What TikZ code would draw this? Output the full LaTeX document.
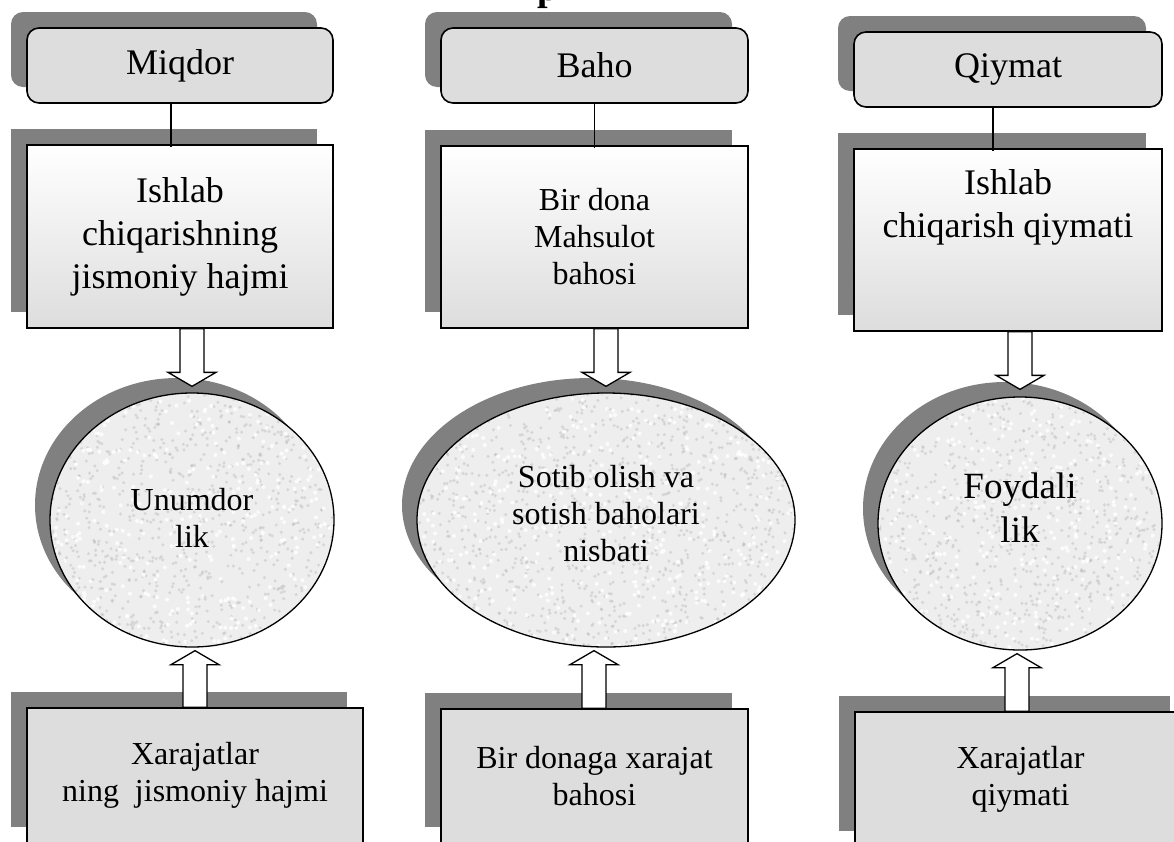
\documentclass[tikz,border=0pt]{standalone}
\usepackage{fontspec}
\setmainfont{Liberation Serif}
\usetikzlibrary{shapes.geometric,shadows,calc}
\definecolor{shadowgray}{HTML}{808080}
\definecolor{boxgray}{HTML}{DDDDDD}
\definecolor{ovalgray}{HTML}{EEEEEE}
\definecolor{speckgray}{HTML}{B4B4B4}

% mottled paper texture for the ovals
\newcommand\speckle{%
  \foreach \k in {1,...,1300}{\fill[speckgray,opacity=.4]
    ($(path picture bounding box.center)+(rand*195,rand*132)$) circle (1.7pt);}
  \foreach \k in {1,...,500}{\fill[white,opacity=.8]
    ($(path picture bounding box.center)+(rand*195,rand*132)$) circle (2pt);}}

% hollow block arrows: #1 = start, #2 = tip
\newcommand\blockdown[2]{\draw[blockarrow] let \p1=#1, \p2=#2 in
  (\x2-12pt,\y1) -- (\x2-12pt,\y2+14pt) -- (\x2-24pt,\y2+14pt) -- (\x2,\y2)
  -- (\x2+24pt,\y2+14pt) -- (\x2+12pt,\y2+14pt) -- (\x2+12pt,\y1) -- cycle;}
\newcommand\blockup[2]{\draw[blockarrow] let \p1=#1, \p2=#2 in
  (\x2-12pt,\y1) -- (\x2-12pt,\y2-14pt) -- (\x2-24pt,\y2-14pt) -- (\x2,\y2)
  -- (\x2+24pt,\y2-14pt) -- (\x2+12pt,\y2-14pt) -- (\x2+12pt,\y1) -- cycle;}

\begin{document}
\begin{tikzpicture}[x=1pt,y=-1pt,
  bigtext/.style={font=\fontsize{36}{43}\selectfont},
  smalltext/.style={font=\fontsize{32}{37}\selectfont},
  ovaltext/.style={font=\fontsize{37}{44}\selectfont},
  castshadow/.style={general shadow={fill=shadowgray, shadow xshift=-16pt, shadow yshift=16pt}},
  headbox/.style={draw, line width=1.6pt, rounded corners=12pt, fill=boxgray,
    castshadow, inner sep=0pt, minimum height=75pt, bigtext},
  panel/.style={draw, line width=1.6pt, top color=white, bottom color=boxgray,
    castshadow, inner sep=0pt, align=center},
  footbox/.style={draw, line width=1.6pt, fill=boxgray, castshadow,
    inner sep=0pt, align=center, smalltext},
  oval/.style={ellipse, draw, line width=1.3pt, fill=ovalgray, inner sep=0pt,
    general shadow={fill=shadowgray, shadow xshift=-15pt, shadow yshift=15pt},
    path picture={\speckle}},
  link/.style={line width=1.2pt},
  blockarrow/.style={draw, line width=1.3pt, fill=white, line join=miter}
]
\pgfmathsetseed{4213}
\useasboundingbox (0,0) rectangle (1174,841);
\clip (0,0) rectangle (1174,841);

% bottom of the heading line above the chart
\node[font=\bfseries\fontsize{38}{40}\selectfont, anchor=base, inner sep=0pt] (heading) at (548,0) {p};

% ---- column 1 ----
\node[headbox, minimum width=306pt] (t1) at (180,65.5) {Miqdor};
\node[panel, bigtext, minimum width=306pt, minimum height=183pt] (r1) at (180,236.5)
  {Ishlab\\chiqarishning\\jismoniy hajmi};
\node[oval, minimum width=284pt, minimum height=254pt] (c1) at (192,520) {};
\node[smalltext, align=center] (c1t) at ($(c1)+(0,-2.5)$) {Unumdor\\lik};
\node[footbox, minimum width=336pt, minimum height=135pt] (b1) at (195,775.5)
  {Xarajatlar\\ning~ jismoniy hajmi};

% ---- column 2 ----
\node[headbox, minimum width=307pt] (t2) at (594.5,65.5) {Baho};
\node[panel, smalltext, minimum width=307pt, minimum height=182pt] (r2) at (594.5,237)
  {Bir dona\\Mahsulot\\bahosi};
\node[oval, minimum width=378pt, minimum height=254pt] (c2) at (606,520) {};
\node[smalltext, align=center] (c2t) at ($(c2)+(0,-6)$) {Sotib olish va\\sotish baholari\\nisbati};
\node[footbox, minimum width=307pt, minimum height=134pt] (b2) at (594.5,776)
  {Bir donaga xarajat\\bahosi};

% ---- column 3 ----
\node[headbox, minimum width=308pt] (t3) at (1008,69.5) {Qiymat};
\node[panel, minimum width=308pt, minimum height=182pt] (r3) at (1008,240) {};
\node[bigtext, align=center, anchor=north, inner sep=0pt] (r3t) at ($(r3.north)+(0,21)$)
  {Ishlab\\chiqarish qiymati};
\node[oval, minimum width=284pt, minimum height=253pt] (c3) at (1020,523.5) {};
\node[ovaltext, align=center] (c3t) at ($(c3)+(0,-16)$) {Foydali\\lik};
\node[footbox, minimum width=331pt, minimum height=135pt] (b3) at (1020.5,779.5)
  {Xarajatlar\\qiymati};

% ---- thin links from headings to panels ----
\draw[link] ($(t1.south)+(-9,0)$) -- ($(r1.north)+(-9,3)$);
\draw[link] (t2.south) -- ($(r2.north)+(0,3)$);
\draw[link] ($(t3.south)+(-15,0)$) -- ($(r3.north)+(-15,3)$);

% ---- block arrows into the ovals ----
\blockdown{(r1.south)}{($(c1.north)+(0,-6)$)}
\blockdown{(r2.south)}{($(c2.north)+(0,-6)$)}
\blockdown{(r3.south)}{($(c3.north)+(0,-7)$)}
\blockup{(b1.north)}{($(c1.south)+(3,3)$)}
\blockup{(b2.north)}{($(c2.south)+(-12,3)$)}
\blockup{(b3.north)}{($(c3.south)+(-3,3)$)}
\end{tikzpicture}
\end{document}
